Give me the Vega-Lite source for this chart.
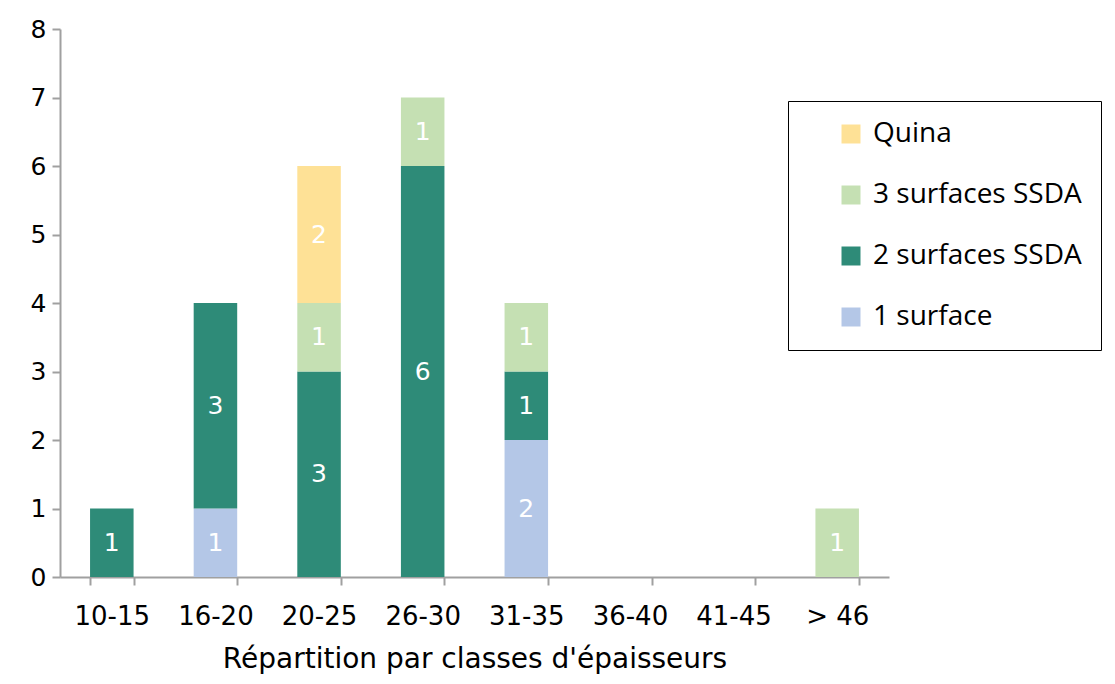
{
  "$schema": "https://vega.github.io/schema/vega-lite/v6.json",
  "autosize": "none",
  "width": 829,
  "height": 548,
  "padding": {"left": 60, "top": 29, "right": 226, "bottom": 107},
  "background": "white",
  "config": {"view": {"stroke": null}},
  "data": {"values": [
    {"classe": "10-15", "type": "2 surfaces SSDA", "n": 1},
    {"classe": "16-20", "type": "1 surface", "n": 1},
    {"classe": "16-20", "type": "2 surfaces SSDA", "n": 3},
    {"classe": "20-25", "type": "2 surfaces SSDA", "n": 3},
    {"classe": "20-25", "type": "3 surfaces SSDA", "n": 1},
    {"classe": "20-25", "type": "Quina", "n": 2},
    {"classe": "26-30", "type": "2 surfaces SSDA", "n": 6},
    {"classe": "26-30", "type": "3 surfaces SSDA", "n": 1},
    {"classe": "31-35", "type": "1 surface", "n": 2},
    {"classe": "31-35", "type": "2 surfaces SSDA", "n": 1},
    {"classe": "31-35", "type": "3 surfaces SSDA", "n": 1},
    {"classe": "> 46", "type": "3 surfaces SSDA", "n": 1}
  ]},
  "transform": [
    {"stack": "n", "groupby": ["classe"], "sort": [{"field": "type", "order": "ascending"}], "as": ["n0", "n1"]},
    {"calculate": "(datum.n0 + datum.n1) / 2", "as": "mid"}
  ],
  "encoding": {
    "x": {
      "field": "classe", "type": "nominal",
      "scale": {"domain": ["10-15", "16-20", "20-25", "26-30", "31-35", "36-40", "41-45", "> 46"], "paddingInner": 0.58, "paddingOuter": 0.29},
      "axis": {
        "title": "Répartition par classes d'épaisseurs",
        "titleFont": "DejaVu Sans", "titleFontSize": 28, "titleFontWeight": "normal", "titleColor": "black", "titlePadding": 16,
        "labelFont": "DejaVu Sans", "labelFontSize": 26, "labelColor": "black", "labelAngle": 0, "labelPadding": 18,
        "tickBand": "extent", "tickSize": 8, "tickColor": "#a0a0a0", "domainColor": "#a0a0a0", "domainWidth": 2, "tickWidth": 2
      }
    }
  },
  "layer": [
    {
      "mark": {"type": "bar"},
      "encoding": {
        "y": {
          "field": "n0", "type": "quantitative",
          "scale": {"domain": [0, 8], "nice": false},
          "axis": {
            "title": null, "tickCount": 8, "grid": false,
            "labelFont": "DejaVu Sans", "labelFontSize": 25, "labelColor": "black", "labelPadding": 6,
            "tickSize": 8, "tickColor": "#a0a0a0", "domainColor": "#a0a0a0", "domainWidth": 2, "tickWidth": 2
          }
        },
        "y2": {"field": "n1"},
        "color": {
          "field": "type", "type": "nominal",
          "scale": {"domain": ["Quina", "3 surfaces SSDA", "2 surfaces SSDA", "1 surface"], "range": ["#fee196", "#c5e0b3", "#2e8b78", "#b4c7e7"]},
          "legend": {
            "title": null, "orient": "none", "legendX": 728, "legendY": 72,
            "strokeColor": "black", "padding": 19, "symbolOffset": 30,
            "symbolType": "square", "symbolSize": 361, "symbolStrokeWidth": 0,
            "labelFont": "Open Sans", "labelFontSize": 28, "labelColor": "black", "labelOffset": 8,
            "rowPadding": 33, "labelLimit": 400
          }
        }
      }
    },
    {
      "mark": {"type": "text", "color": "white", "font": "DejaVu Sans", "fontSize": 25, "baseline": "middle"},
      "encoding": {
        "y": {"field": "mid", "type": "quantitative"},
        "text": {"field": "n", "type": "quantitative"}
      }
    }
  ]
}
